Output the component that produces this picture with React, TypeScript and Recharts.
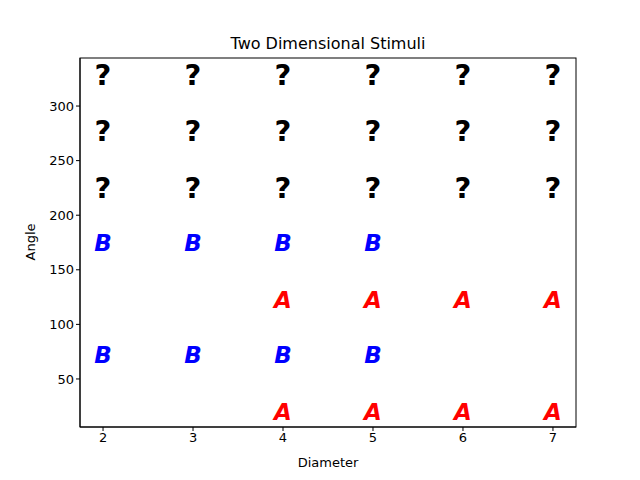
import React from 'react';
import { ScatterChart, Scatter, XAxis, YAxis } from 'recharts';

const diametersA = [4, 5, 6, 7];
const anglesA = [20, 122];
const diametersB = [2, 3, 4, 5];
const anglesB = [72, 175];
const diametersQ = [2, 3, 4, 5, 6, 7];
const anglesQ = [225, 277, 328];
const xTicks = [2, 3, 4, 5, 6, 7];
const yTicks = [50, 100, 150, 200, 250, 300];

const grid = (xs: number[], ys: number[]) =>
  ys.flatMap((y) => xs.map((x) => ({ x, y })));

const dataA = grid(diametersA, anglesA);
const dataB = grid(diametersB, anglesB);
const dataQ = grid(diametersQ, anglesQ);

const glyph = (label: string, color: string, italic: boolean, size: number) => (props: any) => (
  <text
    x={props.cx}
    y={props.cy}
    textAnchor="middle"
    dominantBaseline="central"
    fill={color}
    fontSize={size}
    fontWeight="bold"
    fontStyle={italic ? 'italic' : 'normal'}
    fontFamily="DejaVu Sans"
  >
    {label}
  </text>
);

const tickStyle = { fill: '#000', fontSize: 13, fontFamily: 'DejaVu Sans' };

export default function App() {
  return (
    <div style={{ position: 'absolute', left: 0, top: 0, width: 640, height: 480, background: '#fff' }}>
      <ScatterChart width={640} height={480} margin={{ top: 58, right: 64, bottom: 0, left: 0 }}>
        <text x={328} y={49} textAnchor="middle" fontSize={16} fontFamily="DejaVu Sans">
          Two Dimensional Stimuli
        </text>
        <text x={328} y={467} textAnchor="middle" fontSize={13} fontFamily="DejaVu Sans">
          Diameter
        </text>
        <text x={35} y={242} textAnchor="middle" fontSize={13} fontFamily="DejaVu Sans" transform="rotate(-90 35 242)">
          Angle
        </text>
        <rect x={80} y={58} width={496} height={369} fill="none" stroke="#000" strokeWidth={1} />
        <XAxis
          type="number"
          dataKey="x"
          domain={[1.744, 7.256]}
          ticks={xTicks}
          height={53}
          stroke="#000"
          tick={tickStyle}
          tickSize={4}
          allowDataOverflow
        />
        <YAxis
          type="number"
          dataKey="y"
          domain={[6, 344]}
          ticks={yTicks}
          width={80}
          stroke="#000"
          tick={tickStyle}
          tickSize={4}
          allowDataOverflow
        />
        <Scatter data={dataA} shape={glyph('A', '#ff0000', true, 23)} isAnimationActive={false} />
        <Scatter data={dataB} shape={glyph('B', '#0000ff', true, 23)} isAnimationActive={false} />
        <Scatter data={dataQ} shape={glyph('?', '#000000', false, 29)} isAnimationActive={false} />
      </ScatterChart>
    </div>
  );
}
